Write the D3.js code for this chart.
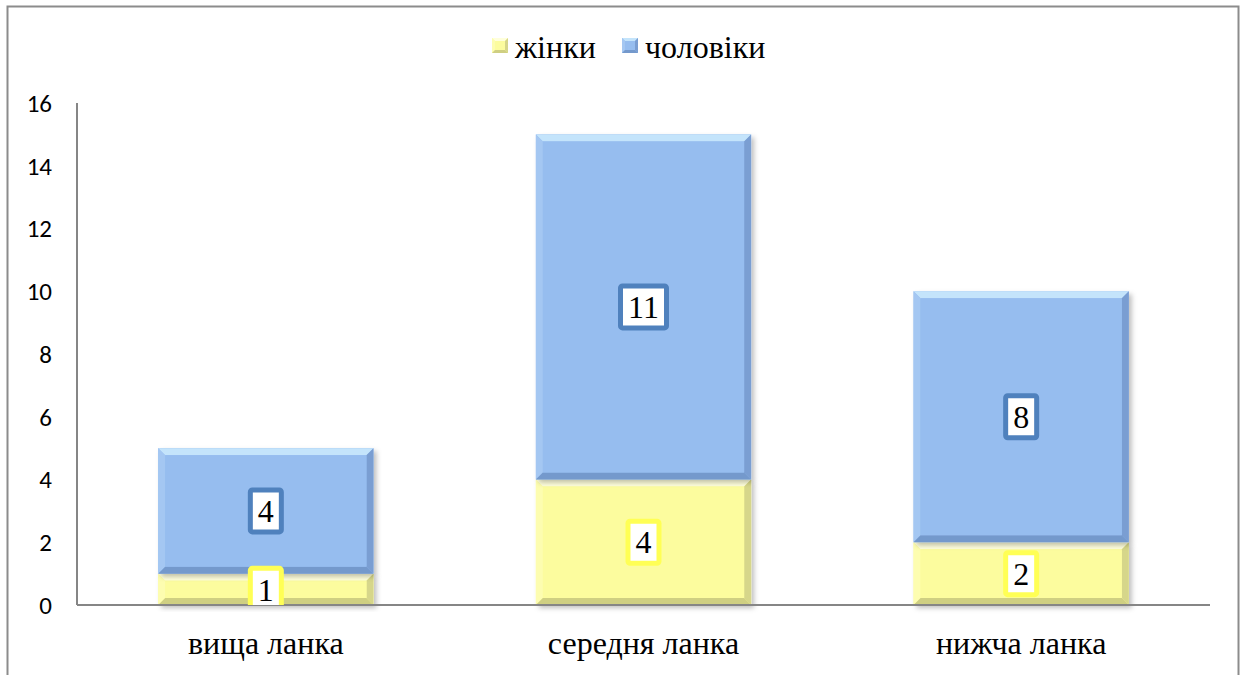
<!DOCTYPE html>
<html><head><meta charset="utf-8">
<script src="https://cdn.jsdelivr.net/npm/d3@7"></script>
<style>body{margin:0;background:#fff}svg{display:block}</style>
</head><body>
<svg id="c" width="1243" height="675"></svg>
<script>
const categories = ["вища ланка", "середня ланка", "нижча ланка"];
const women = [1, 4, 2];
const men = [4, 11, 8];
const seriesNames = ["жінки", "чоловіки"];
const yTicks = [0, 2, 4, 6, 8, 10, 12, 14, 16];

const svg = d3.select("#c");
const plot = {left: 77, right: 1210, top: 103, bottom: 605};

const pal = [
  {base: "#FCFC9E", light: "#FFFFDC", side: "#FDFDB0", dark: "#D6D68A", darker: "#CFCF82", labelBorder: "#FFFF55"},
  {base: "#96BDEF", light: "#C4E4FB", side: "#A4C7F2", dark: "#7A9ED2", darker: "#7499CC", labelBorder: "#4F81BD"}
];

const defs = svg.append("defs");
const f = defs.append("filter").attr("id","sh").attr("x","-10%").attr("y","-10%").attr("width","130%").attr("height","130%");
f.append("feDropShadow").attr("dx",3).attr("dy",3).attr("stdDeviation",2.5).attr("flood-color","#000").attr("flood-opacity",0.25);
const clip = defs.append("clipPath").attr("id","pc");

// frame
svg.append("rect").attr("x",7.5).attr("y",6.5).attr("width",1231).attr("height",720)
  .attr("fill","#fff").attr("stroke","#8c8c8c").attr("stroke-width",2);

const x = d3.scaleBand().domain(categories).range([plot.left, plot.right]).paddingInner(0.43).paddingOuter(0.215);
const y = d3.scaleLinear().domain([0, 16]).range([plot.bottom, plot.top]);

clip.append("rect").attr("x",plot.left).attr("y",plot.top-40).attr("width",plot.right-plot.left).attr("height",plot.bottom-plot.top+40);

const stack = d3.stack().keys([0,1]).value((d,k)=> k===0 ? d.w : d.m);
const rows = categories.map((c,i)=>({c, w: women[i], m: men[i]}));
const layers = stack(rows);

function drawSeg(g, x0, x1, y0, y1, p, bev, shadow) {
  const w = x1 - x0, h = y1 - y0;
  const b = Math.min(bev, h/2, w/2);
  const r = g.append("rect").attr("x",x0).attr("y",y0).attr("width",w).attr("height",h).attr("fill",p.base);
  if (shadow) r.attr("filter","url(#sh)");
  const poly = pts => g.append("polygon").attr("points", pts.map(q=>q.join(",")).join(" "));
  poly([[x0,y0],[x1,y0],[x1-b,y0+b],[x0+b,y0+b]]).attr("fill",p.light);
  poly([[x0,y0],[x0+b,y0+b],[x0+b,y1-b],[x0,y1]]).attr("fill",p.side);
  poly([[x1,y0],[x1,y1],[x1-b,y1-b],[x1-b,y0+b]]).attr("fill",p.dark);
  poly([[x0,y1],[x0+b,y1-b],[x1-b,y1-b],[x1,y1]]).attr("fill",p.darker);
  g.append("rect").attr("x",x0+b).attr("y",y0+b).attr("width",w-2*b).attr("height",h-2*b).attr("fill",p.base);
}

const axisCol = "#868686";
svg.append("line").attr("x1",plot.left).attr("x2",plot.left).attr("y1",plot.top).attr("y2",plot.bottom).attr("stroke",axisCol).attr("stroke-width",2);

const gb = svg.append("g");
layers.forEach((layer, si) => {
  layer.forEach((d, i) => {
    drawSeg(gb, x(categories[i]), x(categories[i]) + x.bandwidth(), y(d[1]), y(d[0]), pal[si], 7, true);
  });
});

svg.append("line").attr("x1",plot.left).attr("x2",plot.right).attr("y1",plot.bottom).attr("y2",plot.bottom).attr("stroke",axisCol).attr("stroke-width",2);

// y tick labels
svg.append("g").selectAll("text").data(yTicks).join("text")
  .attr("x", 52).attr("y", d => y(d)).attr("dy","0.35em").attr("text-anchor","end")
  .attr("font-family","Carlito, 'Liberation Sans', Arial, sans-serif").attr("font-size",25).attr("fill","#000")
  .text(d=>d);

// category labels
svg.append("g").selectAll("text").data(categories).join("text")
  .attr("x", d => x(d) + x.bandwidth()/2).attr("y", 654).attr("text-anchor","middle")
  .attr("font-family","'Liberation Serif', 'Times New Roman', serif").attr("font-size",32).attr("fill","#000")
  .text(d=>d);

// data labels
const gl = svg.append("g").attr("clip-path","url(#pc)");
layers.forEach((layer, si) => {
  layer.forEach((d, i) => {
    const v = d[1] - d[0];
    const cx = x(categories[i]) + x.bandwidth()/2;
    const cy = (y(d[0]) + y(d[1])) / 2;
    const txt = String(v);
    const bw = txt.length > 1 ? 46 : 31, bh = 42;
    gl.append("rect").attr("x",cx-bw/2).attr("y",cy-bh/2).attr("width",bw).attr("height",bh).attr("rx",2)
      .attr("fill","#fff").attr("stroke",pal[si].labelBorder).attr("stroke-width",5);
    gl.append("text").attr("x",cx).attr("y",cy).attr("dy","0.35em").attr("text-anchor","middle")
      .attr("font-family","'Liberation Serif', 'Times New Roman', serif").attr("font-size",32).attr("fill","#000")
      .text(txt);
  });
});

// legend
const lg = svg.append("g");
const legendItems = [{name: seriesNames[0], x: 492}, {name: seriesNames[1], x: 622}];
legendItems.forEach((it, si) => {
  const g = lg.append("g");
  drawSeg(g, it.x, it.x + 16, 38, 53, pal[si], 3, false);
  g.append("text").attr("x", it.x + 23).attr("y", 58)
    .attr("font-family","'Liberation Serif', 'Times New Roman', serif").attr("font-size",32).attr("fill","#000")
    .text(it.name);
});
</script>
</body></html>
